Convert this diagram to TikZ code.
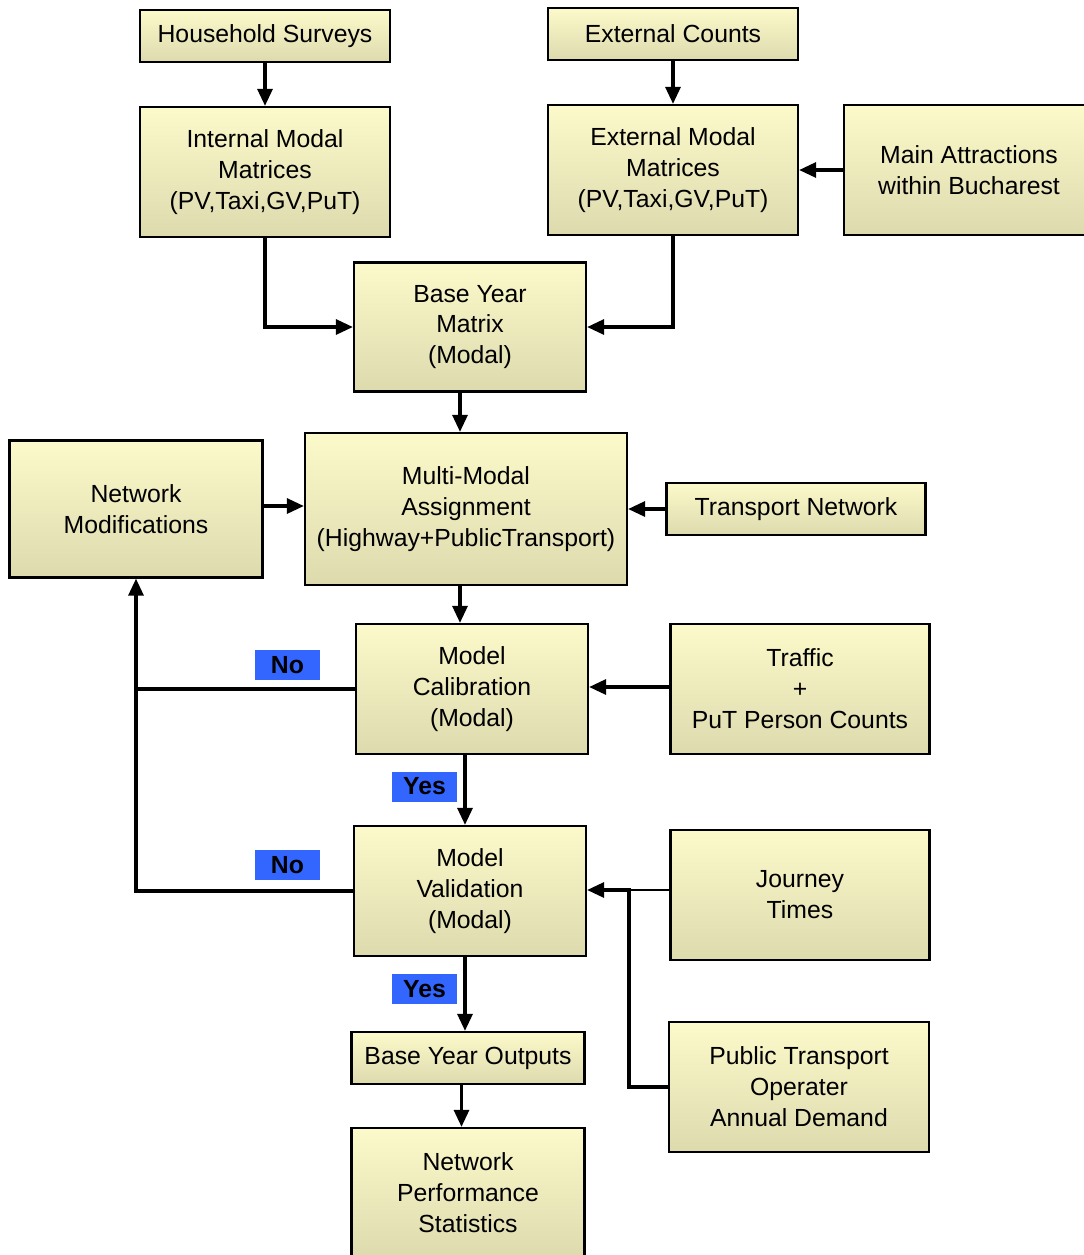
\documentclass[tikz,border=0pt]{standalone}
\usepackage{fontspec}
\setmainfont{Liberation Sans}
\usetikzlibrary{arrows.meta}

\definecolor{boxtop}{HTML}{FCF9CA}
\definecolor{boxbot}{HTML}{DDDAAE}
\definecolor{flagblue}{HTML}{3366FF}

\tikzset{
  box/.style={draw=black,line width=1.3pt,top color=boxtop,bottom color=boxbot,
    align=center,inner sep=0pt,font=\fontsize{14.1}{17.6}\selectfont},
  flag/.style={fill=flagblue,minimum width=1.3cm,minimum height=0.6cm,inner sep=0pt,
    font=\fontsize{14.1}{17}\selectfont\bfseries},
  conn/.style={line width=1.8pt,-{Triangle[length=0.34cm,width=0.3cm]}},
  wire/.style={line width=1.8pt}
}

\begin{document}
\begin{tikzpicture}[x=0.02cm,y=-0.02cm]

\useasboundingbox (0,0) rectangle (1084,1255);

% inputs
\node [box,minimum width=5cm,minimum height=1.04cm] (hs) at (265,36) {Household Surveys};
\node [box,minimum width=5cm,minimum height=1.04cm] (ec) at (673,34) {External Counts};
\node [box,minimum width=5cm,minimum height=2.6cm] (imm) at (265,172) {Internal Modal\\Matrices\\(PV,Taxi,GV,PuT)};
\node [box,minimum width=5cm,minimum height=2.6cm] (emm) at (673,170) {External Modal\\Matrices\\(PV,Taxi,GV,PuT)};
\node [box,minimum width=5cm,minimum height=2.6cm] (ma) at (969,170) {Main Attractions\\within Bucharest};
\node [box,minimum width=4.64cm,minimum height=2.58cm] (bym) at (470,327) {Base Year\\Matrix\\(Modal)};

% assignment
\node [box,minimum width=6.44cm,minimum height=3.04cm] (mma) at (466,509) {Multi-Modal\\Assignment\\(Highway+PublicTransport)};
\node [box,minimum width=5.06cm,minimum height=2.74cm] (nm) at (136,509) {Network\\Modifications};
\node [box,minimum width=5.18cm,minimum height=1.04cm] (tn) at (796,509) {Transport Network};

% calibration and validation
\node [box,minimum width=4.64cm,minimum height=2.6cm] (mc) at (472,689) {Model\\Calibration\\(Modal)};
\node [box,minimum width=5.18cm,minimum height=2.6cm] (tpc) at (800,689) {Traffic\\+\\PuT Person Counts};
\node [box,minimum width=4.64cm,minimum height=2.6cm] (mv) at (470,891) {Model\\Validation\\(Modal)};
\node [box,minimum width=5.18cm,minimum height=2.6cm] (jt) at (800,895) {Journey\\Times};
\node [box,minimum width=5.2cm,minimum height=2.6cm] (pto) at (799,1087) {Public Transport\\Operater\\Annual Demand};

% outputs
\node [box,minimum width=4.66cm,minimum height=1.04cm] (byo) at (468,1058) {Base Year Outputs};
\node [box,minimum width=4.66cm,minimum height=2.6cm] (nps) at (468,1193) {Network\\Performance\\Statistics};

\coordinate (jn) at (629,890);

\draw [conn] (hs) -- (imm);
\draw [conn] (ec) -- (emm);
\draw [conn] (ma) -- (emm);
\draw [conn] (imm.south) |- (bym.west);
\draw [conn] (emm.south) |- (bym.east);
\draw [conn] ([xshift=-0.2cm]bym.south) -- ([xshift=-0.2cm]bym.south |- mma.north);
\draw [conn] (nm.east |- 0,506) -- (mma.west |- 0,506);
\draw [conn] (tn) -- (mma.east |- tn);
\draw [conn] ([xshift=-0.12cm]mma.south) -- ([xshift=-0.12cm]mma.south |- mc.north);
\draw [conn] (tpc.west |- 0,687) -- (mc.east |- 0,687);
\draw [conn] ([xshift=-0.14cm]mc.south) -- ([xshift=-0.14cm]mc.south |- mv.north);
\draw [conn] (mc.west) -| (nm.south);
\draw [wire] (mv.west) -| (nm.south |- mc.west);
\draw [line width=0.7pt] (jt.west |- jn) -- (jn);
\draw [conn] (pto.west) -| (jn) -- (mv.east |- jn);
\draw [conn] ([xshift=-0.1cm]mv.south) -- ([xshift=-0.1cm]mv.south |- byo.north);
\draw [conn] ([xshift=-0.13cm]byo.south) -- ([xshift=-0.13cm]byo.south |- nps.north);

% decision flags
\node [flag] (no1) at (287.5,665) {No};
\node [flag] (yes1) at (424.5,786.5) {Yes};
\node [flag] (no2) at (287.5,865) {No};
\node [flag] (yes2) at (424.5,989) {Yes};

\end{tikzpicture}
\end{document}
